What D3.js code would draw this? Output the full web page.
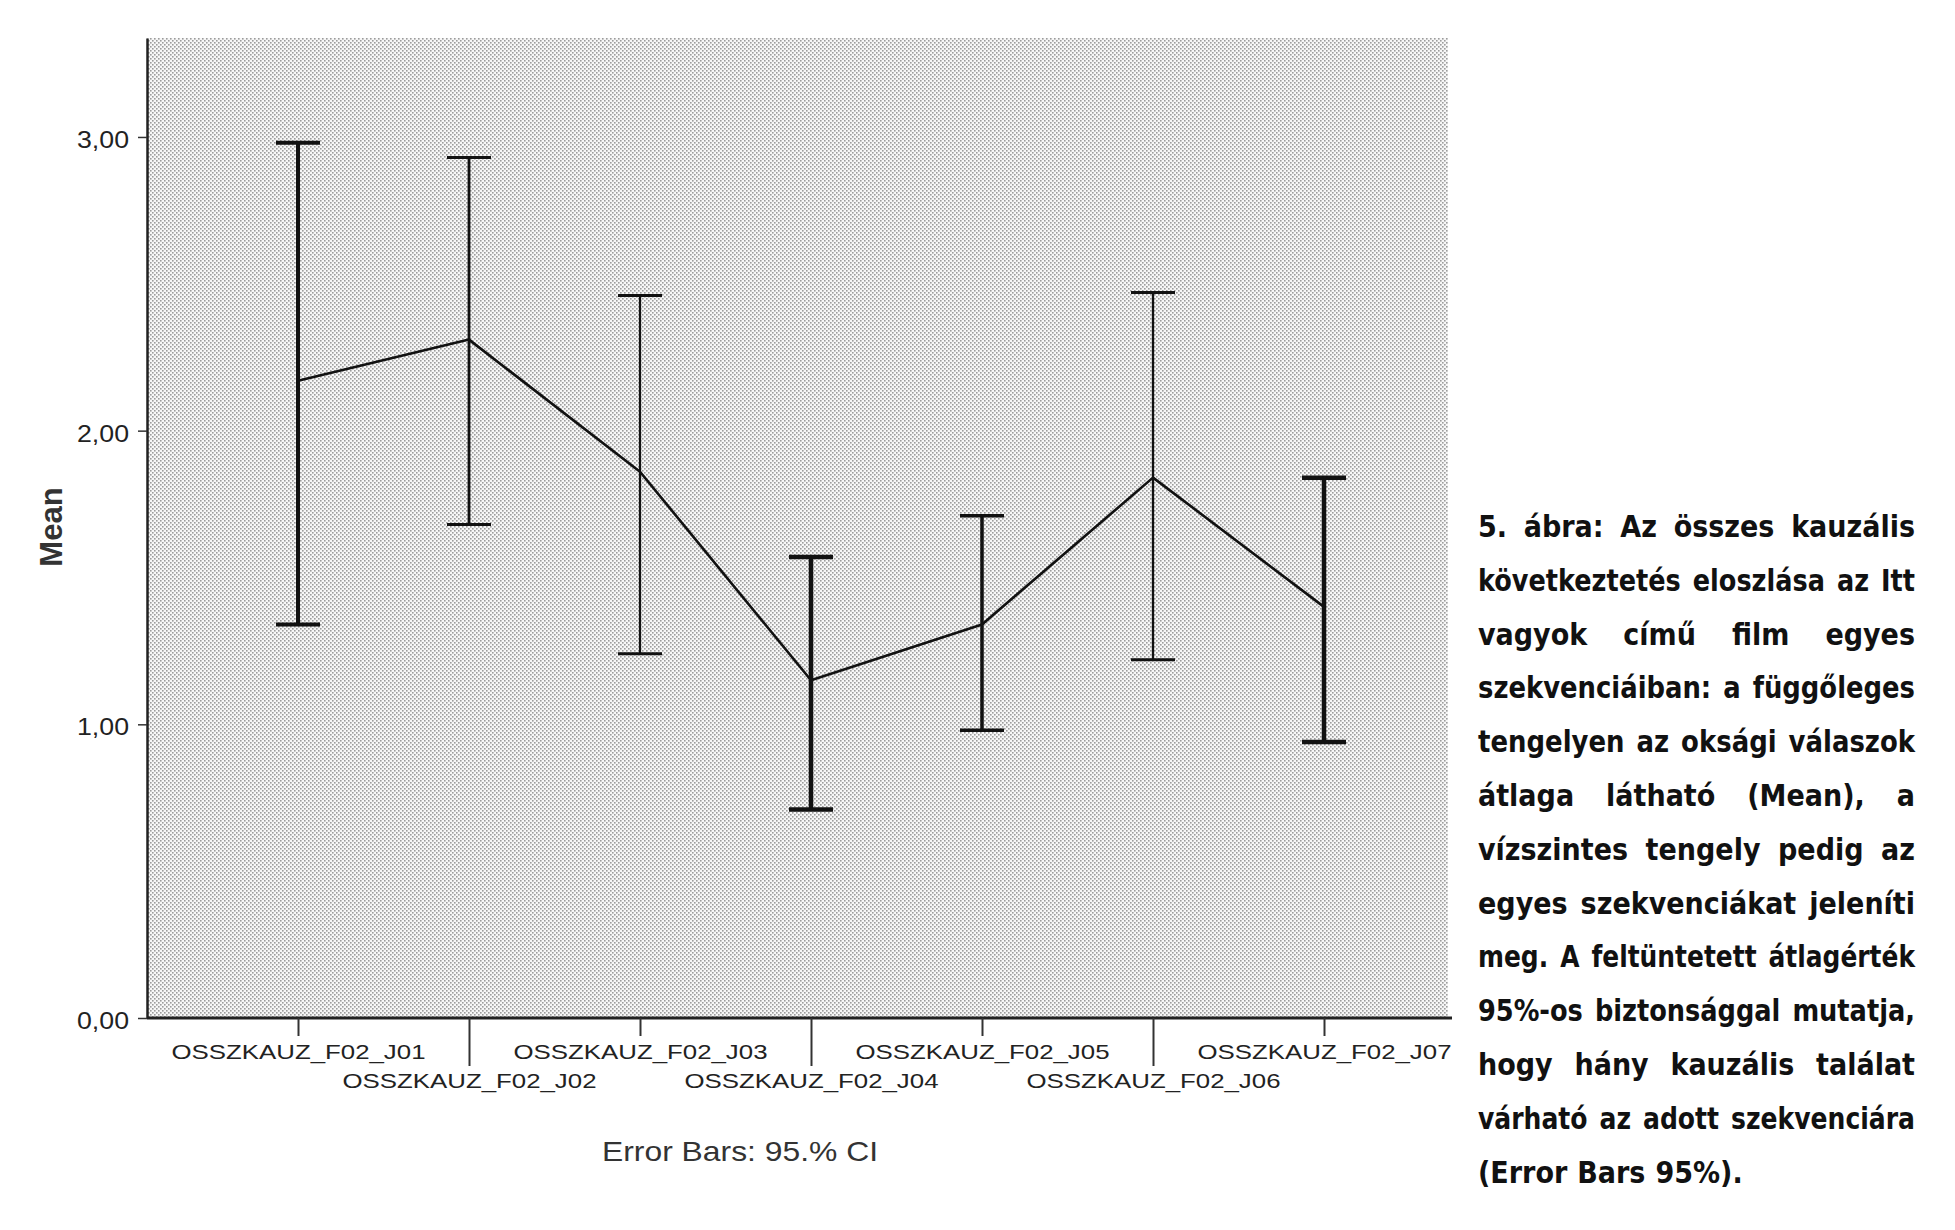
<!DOCTYPE html>
<html><head><meta charset="utf-8">
<script src="https://cdn.jsdelivr.net/npm/d3@7"></script>
<style>
body{margin:0;background:#fff;}
svg{display:block;}
</style>
</head><body>
<svg id="chart" width="1955" height="1230"></svg>
<script>
// ---- data ----
const categories = ["OSSZKAUZ_F02_J01","OSSZKAUZ_F02_J02","OSSZKAUZ_F02_J03","OSSZKAUZ_F02_J04","OSSZKAUZ_F02_J05","OSSZKAUZ_F02_J06","OSSZKAUZ_F02_J07"];
const means   = [2.17, 2.31, 1.86, 1.15, 1.34, 1.84, 1.40];
const upperCI = [2.98, 2.93, 2.46, 1.57, 1.71, 2.47, 1.84];
const lowerCI = [1.34, 1.68, 1.24, 0.71, 0.98, 1.22, 0.94];
const yTicks = [0, 1, 2, 3];
const yTickLabels = ["0,00", "1,00", "2,00", "3,00"];
const yTitle = "Mean";
const footnote = "Error Bars: 95.% CI";
const captionLines = [
  "5. ábra: Az összes kauzális",
  "következtetés eloszlása az Itt",
  "vagyok című film egyes",
  "szekvenciáiban: a függőleges",
  "tengelyen az oksági válaszok",
  "átlaga látható (Mean), a",
  "vízszintes tengely pedig az",
  "egyes szekvenciákat jeleníti",
  "meg. A feltüntetett átlagérték",
  "95%-os biztonsággal mutatja,",
  "hogy hány kauzális találat",
  "várható az adott szekvenciára",
  "(Error Bars 95%)."
];

// ---- styles / layout ----
const barWidths = [4, 2.8, 2.2, 4.5, 3.5, 2.3, 4.5];
const plot = {left: 147, right: 1448, top: 38, bottom: 1018};
const svg = d3.select("#chart");

const defs = svg.append("defs");
const pat = defs.append("pattern").attr("id","dots").attr("patternUnits","userSpaceOnUse")
  .attr("width",4).attr("height",4);
pat.append("rect").attr("width",4).attr("height",4).attr("fill","#f7f7f7");
pat.append("rect").attr("x",0).attr("y",0).attr("width",1.6).attr("height",1.6).attr("fill","#9c9c9c");
pat.append("rect").attr("x",2).attr("y",2).attr("width",1.6).attr("height",1.6).attr("fill","#9c9c9c");

svg.append("rect").attr("x",plot.left).attr("y",plot.top)
  .attr("width",plot.right-plot.left).attr("height",plot.bottom-plot.top)
  .attr("fill","url(#dots)");

const y = d3.scaleLinear().domain([0, 3.337]).range([plot.bottom, plot.top]);
const x = d3.scalePoint().domain(categories).range([plot.left + 151, plot.right - 124]);

// y axis
const yAxis = svg.append("g").attr("transform",`translate(${plot.left},0)`)
  .call(d3.axisLeft(y).tickValues(yTicks).tickFormat((d,i)=>yTickLabels[i])
    .tickSize(9).tickSizeOuter(0).tickPadding(9));
yAxis.select(".domain").attr("stroke","#222").attr("stroke-width",2.5);
yAxis.selectAll(".tick line").attr("stroke","#333").attr("stroke-width",1.5);
yAxis.selectAll(".tick text").attr("font-family","'Liberation Sans', Arial, sans-serif")
  .attr("font-size",23).attr("fill","#222").attr("dy","0.45em")
  .attr("textLength",52).attr("lengthAdjust","spacingAndGlyphs");

// x axis
const xAxis = svg.append("g").attr("transform",`translate(0,${plot.bottom})`)
  .call(d3.axisBottom(x).tickSize(18).tickSizeOuter(0).tickPadding(6));
xAxis.select(".domain").attr("d",`M${plot.left},0H${plot.right+4}`)
  .attr("stroke","#222").attr("stroke-width",3);
xAxis.selectAll(".tick line").attr("stroke","#333").attr("stroke-width",2)
  .attr("y2",(d,i)=> i % 2 ? 48 : 18);
xAxis.selectAll(".tick text")
  .attr("font-family","'Liberation Sans', Arial, sans-serif")
  .attr("font-size",21).attr("fill","#222")
  .attr("textLength",254).attr("lengthAdjust","spacingAndGlyphs")
  .attr("y",(d,i)=> i % 2 ? 62 : 33).attr("dy","0.36em");

// mean line
const idx = d3.range(categories.length);
svg.append("path").datum(idx)
  .attr("fill","none").attr("stroke","#111").attr("stroke-width",2.6)
  .attr("stroke-linejoin","round")
  .attr("d", d3.line().x(i=>x(categories[i])).y(i=>y(means[i])));

// error bars
const capW = 22;
const bars = svg.append("g").selectAll("g").data(idx).join("g")
  .attr("stroke","#111");
bars.append("line")
  .attr("x1",i=>x(categories[i])).attr("x2",i=>x(categories[i]))
  .attr("y1",i=>y(upperCI[i])).attr("y2",i=>y(lowerCI[i]))
  .attr("stroke-width",i=>barWidths[i]);
bars.append("line")
  .attr("x1",i=>x(categories[i])-capW).attr("x2",i=>x(categories[i])+capW)
  .attr("y1",i=>y(upperCI[i])).attr("y2",i=>y(upperCI[i]))
  .attr("stroke-width",i=>Math.max(3,barWidths[i]));
bars.append("line")
  .attr("x1",i=>x(categories[i])-capW).attr("x2",i=>x(categories[i])+capW)
  .attr("y1",i=>y(lowerCI[i])).attr("y2",i=>y(lowerCI[i]))
  .attr("stroke-width",i=>Math.max(3,barWidths[i]));

// y title
svg.append("text").attr("transform","translate(62,527) rotate(-90)")
  .attr("text-anchor","middle").attr("font-family","'Liberation Sans', Arial, sans-serif")
  .attr("font-weight","bold").attr("font-size",31).attr("fill","#333").text(yTitle);

// footnote
svg.append("text").attr("x",740).attr("y",1161).attr("text-anchor","middle")
  .attr("font-family","'Liberation Sans', Arial, sans-serif")
  .attr("font-size",28).attr("fill","#333")
  .attr("textLength",276).attr("lengthAdjust","spacingAndGlyphs").text(footnote);

// caption (justified)
const cap = {left: 1478, right: 1915, top: 537, lh: 53.8};
const capFont = "'Liberation Sans Narrow', 'DejaVu Sans Condensed', 'Liberation Sans', sans-serif";
const capG = svg.append("g").attr("font-family",capFont).attr("font-weight","bold")
  .attr("font-size",30).attr("fill","#111").attr("font-stretch","condensed");
captionLines.forEach((line, li) => {
  const words = line.split(" ");
  const yy = cap.top + li*cap.lh;
  const nodes = words.map(w => capG.append("text").attr("y",yy).text(w));
  const widths = nodes.map(n => n.node().getComputedTextLength());
  const avail = cap.right - cap.left;
  const last = li === captionLines.length - 1;
  const minGap = 12;
  let sum = d3.sum(widths);
  let s = Math.min(1, (avail - minGap*(words.length-1)) / sum);
  const gap = last ? 10 : (words.length > 1 ? (avail - sum*s)/(words.length-1) : 0);
  let xx = cap.left;
  nodes.forEach((n,k) => {
    n.attr("x", xx);
    if (s < 1) n.attr("textLength", widths[k]*s).attr("lengthAdjust","spacingAndGlyphs");
    xx += widths[k]*s + gap;
  });
});
</script>
</body></html>
